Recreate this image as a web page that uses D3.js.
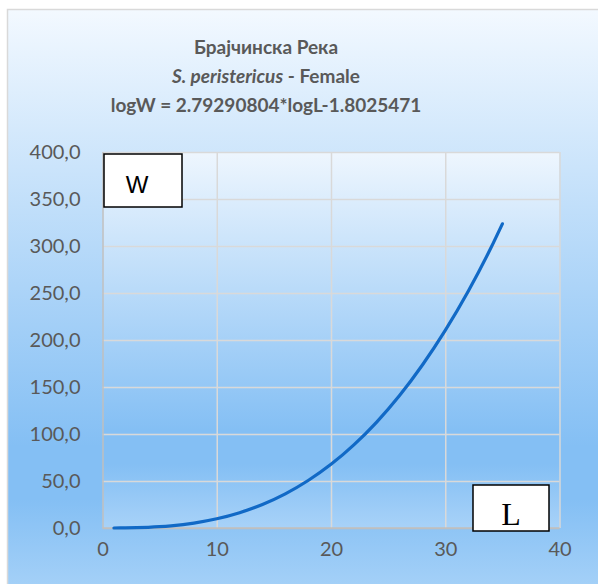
<!DOCTYPE html>
<html>
<head>
<meta charset="utf-8">
<script src="https://cdn.jsdelivr.net/npm/d3@7"></script>
<style>
  html, body { margin: 0; padding: 0; background: #ffffff; }
  svg { display: block; }
</style>
</head>
<body>
<script>
// Length–weight curve, Брајчинска Река, S. peristericus females
const lengths = [1, 2, 3, 4, 5, 6, 8, 10, 12, 14, 16, 18, 20, 22, 24, 26, 28, 30, 32, 34, 35];
const weights = [0.02, 0.11, 0.34, 0.76, 1.41, 2.35, 5.24, 9.78, 16.3, 25.0, 36.3, 50.5, 67.7, 88.4, 112.7, 140.9, 173.4, 210.2, 251.6, 298.1, 323.6];
const xTicks = [0, 10, 20, 30, 40];
const yTicks = [0, 50, 100, 150, 200, 250, 300, 350, 400];
const titleLines = ["Брајчинска Река", "S. peristericus", " - Female", "logW = 2.79290804*logL-1.8025471"];
const axisNames = ["W", "L"];

const width = 598, height = 584;
const plot = { left: 102.5, right: 559.5, top: 152, bottom: 528 };

const svg = d3.select("body").append("svg")
  .attr("width", width).attr("height", height);

const defs = svg.append("defs");
function gradient(id, y1, y2, stops) {
  const g = defs.append("linearGradient").attr("id", id)
    .attr("gradientUnits", "userSpaceOnUse")
    .attr("x1", 0).attr("x2", 0).attr("y1", y1).attr("y2", y2);
  stops.forEach(([o, c]) => g.append("stop").attr("offset", o).attr("stop-color", c));
}
gradient("bgChart", 9, 600, [[0, "#f3f9ff"], [0.74, "#84bff4"], [0.83, "#84bff4"], [1, "#a9d3f8"]]);
gradient("bgPlot", plot.top, plot.bottom, [[0, "#eef6fe"], [0.74, "#84bff4"], [0.83, "#84bff4"], [1, "#a8d2f8"]]);

// chart area with thin frame
svg.append("rect").attr("x", 7.5).attr("y", 9.5).attr("width", 600).attr("height", 600)
  .attr("fill", "url(#bgChart)").attr("stroke", "#d9d9d9").attr("stroke-width", 1.5);

// plot area
svg.append("rect").attr("x", plot.left).attr("y", plot.top)
  .attr("width", plot.right - plot.left).attr("height", plot.bottom - plot.top)
  .attr("fill", "url(#bgPlot)");

const x = d3.scaleLinear().domain([0, 40]).range([plot.left, plot.right]);
const y = d3.scaleLinear().domain([0, 400]).range([plot.bottom, plot.top]);

const fmt = d => d.toFixed(1).replace(".", ",");
const tickFont = "Lato, 'Open Sans', sans-serif";

// horizontal grid
svg.append("g").attr("transform", `translate(${plot.left},0)`)
  .call(d3.axisLeft(y).tickValues(yTicks).tickSize(-(plot.right - plot.left)).tickFormat(fmt).tickPadding(22))
  .call(g => g.select(".domain").remove())
  .call(g => g.selectAll(".tick line").attr("stroke", d => d === 0 ? "#bfbfbf" : "#d9d9d9").attr("stroke-width", 1.5))
  .call(g => g.selectAll(".tick text").attr("fill", "#595959").attr("font-family", tickFont).attr("font-size", 20));

// vertical grid
svg.append("g").attr("transform", `translate(0,${plot.bottom})`)
  .call(d3.axisBottom(x).tickValues(xTicks).tickSize(-(plot.bottom - plot.top)).tickPadding(14))
  .call(g => g.select(".domain").remove())
  .call(g => g.selectAll(".tick line").attr("stroke", d => d === 0 ? "#bfbfbf" : "#d9d9d9").attr("stroke-width", 1.5))
  .call(g => g.selectAll(".tick text").attr("fill", "#595959").attr("font-family", tickFont).attr("font-size", 20));

// bottom axis line drawn over the vertical grid
svg.append("line").attr("x1", plot.left).attr("x2", plot.right)
  .attr("y1", plot.bottom).attr("y2", plot.bottom)
  .attr("stroke", "#bfbfbf").attr("stroke-width", 1.5);

// fitted curve
const pts = lengths.map((l, i) => [l, weights[i]]);
svg.append("path").datum(pts)
  .attr("fill", "none").attr("stroke", "#1169c6").attr("stroke-width", 3.2)
  .attr("stroke-linecap", "round")
  .attr("d", d3.line().x(d => x(d[0])).y(d => y(d[1])).curve(d3.curveMonotoneX));

// title
const tf = "Lato, 'Open Sans', sans-serif";
const title = svg.append("g").attr("fill", "#595959").attr("font-family", tf)
  .attr("font-weight", "bold").attr("font-size", 19).attr("text-anchor", "middle");
title.append("text").attr("x", 266).attr("y", 54).text(titleLines[0]);
const t2 = title.append("text").attr("x", 266).attr("y", 83);
t2.append("tspan").attr("font-style", "italic").text(titleLines[1]);
t2.append("tspan").text(titleLines[2]);
title.append("text").attr("x", 266).attr("y", 112).text(titleLines[3]);

// axis name boxes
svg.append("rect").attr("x", 104).attr("y", 154).attr("width", 78).attr("height", 53)
  .attr("fill", "#ffffff").attr("stroke", "#000000").attr("stroke-width", 1.5);
svg.append("text").attr("x", 137).attr("y", 193).attr("text-anchor", "middle")
  .attr("font-family", "'Liberation Sans', Arial, sans-serif").attr("font-size", 24)
  .attr("fill", "#000000").text(axisNames[0]);

svg.append("rect").attr("x", 473).attr("y", 485).attr("width", 76).attr("height", 46)
  .attr("fill", "#ffffff").attr("stroke", "#000000").attr("stroke-width", 1.5);
svg.append("text").attr("x", 511).attr("y", 525).attr("text-anchor", "middle")
  .attr("font-family", "'Liberation Serif', 'Times New Roman', serif").attr("font-size", 32)
  .attr("fill", "#000000").text(axisNames[1]);
</script>
</body>
</html>
